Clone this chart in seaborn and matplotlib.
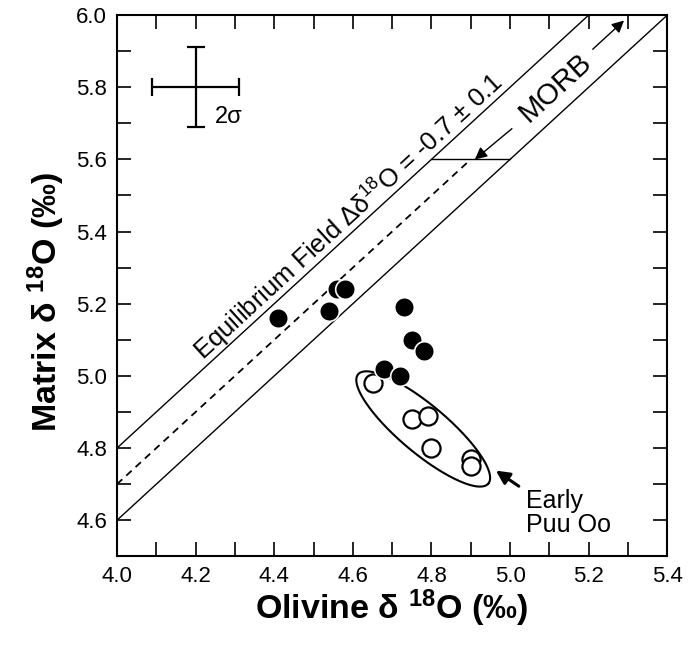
import numpy as np
import pandas as pd
import matplotlib
matplotlib.use("Agg")
import matplotlib.pyplot as plt
import seaborn as sns
from matplotlib.ticker import MultipleLocator, FormatStrFormatter

# data
olivine_filled = [4.41, 4.54, 4.56, 4.58, 4.73, 4.75, 4.78, 4.68, 4.72]
matrix_filled = [5.16, 5.18, 5.24, 5.24, 5.19, 5.10, 5.07, 5.02, 5.00]
olivine_early = [4.65, 4.75, 4.79, 4.80, 4.90, 4.90]
matrix_early = [4.98, 4.88, 4.89, 4.80, 4.77, 4.75]

equil_delta = -0.7     # olivine - matrix
equil_err = 0.1
sigma2_x = 0.11
sigma2_y = 0.11

sns.set_style("ticks")
plt.rcParams["font.family"] = ["Liberation Sans", "DejaVu Sans"]
plt.rcParams["mathtext.fontset"] = "custom"
plt.rcParams["mathtext.rm"] = "Liberation Sans"
plt.rcParams["mathtext.bf"] = "Liberation Sans:bold"
plt.rcParams["mathtext.it"] = "Liberation Sans:italic"
plt.rcParams["text.color"] = "black"
plt.rcParams["axes.labelcolor"] = "black"

fig = plt.figure(figsize=(6.88, 6.53), dpi=100)
ax = fig.add_axes([0.170, 0.148, 0.800, 0.829])
ax.set_xlim(4.0, 5.4)
ax.set_ylim(4.5, 6.0)

# equilibrium field lines
xs_up = np.array([4.0, 6.0 + equil_delta - equil_err])
ax.plot(xs_up, xs_up - equil_delta + equil_err, color="black", lw=1.0)
xs_lo = np.array([4.0, 5.4])
ax.plot(xs_lo, xs_lo - equil_delta - equil_err, color="black", lw=1.0)
xs_mid = np.array([4.0, 4.9])
ax.plot(xs_mid, xs_mid - equil_delta, color="black", lw=1.3, ls=(0, (4, 3)))
y_h = 5.6
ax.plot([y_h + equil_delta - equil_err, y_h + equil_delta + equil_err], [y_h, y_h],
        color="black", lw=1.0)

# data points
early = pd.DataFrame({"olivine": olivine_early, "matrix": matrix_early})
main = pd.DataFrame({"olivine": olivine_filled, "matrix": matrix_filled})
sns.scatterplot(data=early, x="olivine", y="matrix", ax=ax, s=170,
                facecolor="white", edgecolor="black", linewidth=1.6, zorder=3)
sns.scatterplot(data=main, x="olivine", y="matrix", ax=ax, s=200,
                color="black", edgecolor="white", linewidth=1.2, zorder=4)

# pixel scale for screen-space shapes
w_px = ax.get_position().width * fig.get_figwidth() * fig.dpi
h_px = ax.get_position().height * fig.get_figheight() * fig.dpi
sx = w_px / 1.4
sy = h_px / 1.5
angle = np.degrees(np.arctan2(sy, sx))

# ellipse around Early Puu Oo
t = np.linspace(0, 2 * np.pi, 200)
phi = np.radians(-40)
a, b = 85, 24
u = a * np.cos(t) * np.cos(phi) - b * np.sin(t) * np.sin(phi)
v = a * np.cos(t) * np.sin(phi) + b * np.sin(t) * np.cos(phi)
ax.plot(4.779 + u / sx, 4.853 + v / sy, color="black", lw=1.5, zorder=2)

ax.annotate("", xy=(4.958, 4.742), xytext=(5.028, 4.69),
            arrowprops=dict(arrowstyle="-|>", color="black", lw=2.2, mutation_scale=20))
ax.text(5.04, 4.688, "Early\nPuu Oo", ha="left", va="top", fontsize=18, linespacing=1.05)

# MORB label with arrows
ax.annotate("", xy=(4.905, 5.595), xytext=(5.01, 5.69),
            arrowprops=dict(arrowstyle="-|>", color="black", lw=1.0, mutation_scale=18))
ax.annotate("", xy=(5.295, 5.99), xytext=(5.205, 5.9),
            arrowprops=dict(arrowstyle="-|>", color="black", lw=1.0, mutation_scale=18))
ax.text(5.115, 5.80, "MORB", rotation=angle, rotation_mode="anchor",
        ha="center", va="center", fontsize=21)

ax.text(4.59, 5.44, "Equilibrium Field Δδ$^{18}$O = -0.7 ± 0.1",
        rotation=angle, rotation_mode="anchor", ha="center", va="center", fontsize=18.5)

# 2 sigma cross
ax.errorbar([4.2], [5.8], xerr=sigma2_x, yerr=sigma2_y, color="black",
            lw=1.6, capsize=6.5, capthick=1.6)
ax.text(4.248, 5.687, "2σ", ha="left", va="bottom", fontsize=17)

ax.xaxis.set_major_locator(MultipleLocator(0.2))
ax.xaxis.set_minor_locator(MultipleLocator(0.1))
ax.yaxis.set_major_locator(MultipleLocator(0.2))
ax.yaxis.set_minor_locator(MultipleLocator(0.1))
ax.xaxis.set_major_formatter(FormatStrFormatter("%.1f"))
ax.yaxis.set_major_formatter(FormatStrFormatter("%.1f"))
ax.tick_params(which="both", direction="in", length=10, width=1.2,
               top=True, right=True, labelsize=16, pad=7, colors="black")
for sp in ax.spines.values():
    sp.set_linewidth(1.5)
    sp.set_color("black")

ax.set_xlabel("Olivine δ $^{\\mathbf{18}}$O (‰)", fontsize=24.5, fontweight="bold", labelpad=0)
ax.set_ylabel("Matrix δ $^{\\mathbf{18}}$O (‰)", fontsize=24.5, fontweight="bold")
ax.yaxis.set_label_coords(-0.09, 0.47)

fig.savefig("out.png", dpi=100)
plt.close(fig)
